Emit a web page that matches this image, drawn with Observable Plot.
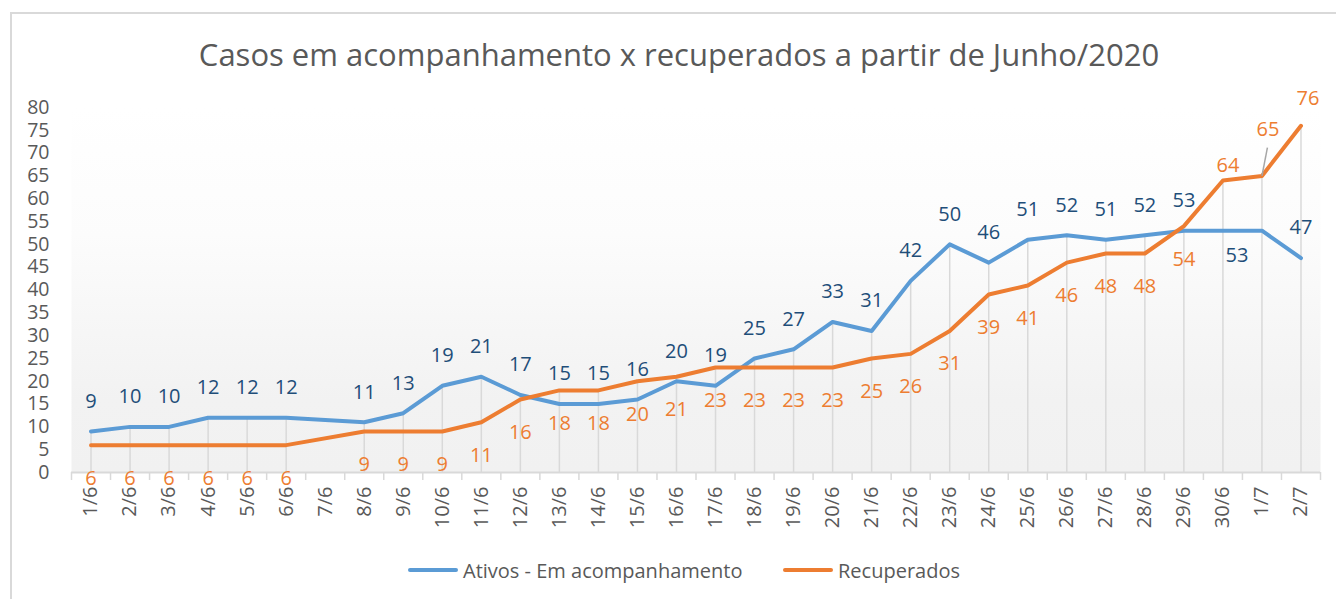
<!DOCTYPE html>
<html>
<head>
<meta charset="utf-8">
<script src="https://cdn.jsdelivr.net/npm/d3@7"></script>
<script src="https://cdn.jsdelivr.net/npm/@observablehq/plot@0.6"></script>
<style>
  html, body { margin: 0; padding: 0; background: #ffffff; }
  #wrap { position: relative; width: 1336px; height: 599px; overflow: hidden; font-family: "Open Sans", sans-serif; }
  #border { position: absolute; left: 10px; top: 12px; width: 1340px; height: 600px; border-left: 2px solid #d9d9d9; border-top: 2px solid #d9d9d9; box-sizing: border-box; }
  #title { position: absolute; top: 33px; left: 11px; width: 1336px; text-align: center; font-size: 31px; color: #595959; white-space: nowrap; }
  #chart { position: absolute; left: 0; top: 80px; }
  #legend { position: absolute; top: 556px; left: 0; width: 1336px; height: 28px; font-size: 20px; color: #595959; }
  .item { position: absolute; display: flex; align-items: center; height: 28px; }
  .swatch { width: 50px; height: 4px; border-radius: 2px; margin-right: 5px; }
</style>
</head>
<body>
<div id="wrap">
  <div id="border"></div>
  <div id="title">Casos em acompanhamento x recuperados a partir de Junho/2020</div>
  <div id="chart"></div>
  <div id="legend"></div>
</div>
<script>
const categories = ["1/6","2/6","3/6","4/6","5/6","6/6","7/6","8/6","9/6","10/6","11/6","12/6","13/6","14/6","15/6","16/6","17/6","18/6","19/6","20/6","21/6","22/6","23/6","24/6","25/6","26/6","27/6","28/6","29/6","30/6","1/7","2/7"];
const ativos = [9,10,10,12,12,12,null,11,13,19,21,17,15,15,16,20,19,25,27,33,31,42,50,46,51,52,51,52,53,53,53,47];
const recuperados = [6,6,6,6,6,6,null,9,9,9,11,16,18,18,20,21,23,23,23,23,25,26,31,39,41,46,48,48,54,64,65,76];
const yTicks = [0,5,10,15,20,25,30,35,40,45,50,55,60,65,70,75,80];
const seriesNames = ["Ativos - Em acompanhamento", "Recuperados"];

const lineColors = {"Ativos - Em acompanhamento": "#5B9BD5", "Recuperados": "#ED7D31"};
const labelColors = {"Ativos - Em acompanhamento": "#1F4E79", "Recuperados": "#ED7D31"};

// label placement (Excel-like), offsets in pixels; hidden labels as in the source chart
const placeA = {"30/6": {dx: 14, dy: 25}, "1/7": {hide: true}};
const placeR = {"30/6": {dx: 5, dy: -15}, "1/7": {dx: 6, dy: -46}, "2/7": {dx: 7, dy: -27}};

const rows = [];
categories.forEach((c, i) => {
  const pa = placeA[c] || {}, pr = placeR[c] || {};
  if (ativos[i] != null) rows.push({i, cat: c, v: ativos[i], s: seriesNames[0], dx: pa.dx ?? 0, dy: pa.dy ?? -30, hide: !!pa.hide});
  if (recuperados[i] != null) rows.push({i, cat: c, v: recuperados[i], s: seriesNames[1], dx: pr.dx ?? 0, dy: pr.dy ?? 33, hide: !!pr.hide});
});
const drops = categories.map((c, i) => ({i, top: (ativos[i] == null && recuperados[i] == null) ? null : Math.max(ativos[i] ?? 0, recuperados[i] ?? 0)})).filter(d => d.top != null);
const bounds = d3.range(categories.length + 1).map(k => k - 0.5);

const W = 1336, H = 470;
const textMarks = [];
for (const r of rows.filter(r => !r.hide)) {
  textMarks.push(Plot.text([r], {x: "i", y: "v", text: d => String(d.v), dx: r.dx, dy: r.dy, fill: labelColors[r.s], fontSize: 20, lineAnchor: "middle"}));
}
const leader = rows.filter(r => r.s === seriesNames[1] && r.cat === "1/7");

const chart = Plot.plot({
  width: W,
  height: H,
  marginLeft: 71,
  marginRight: 16,
  marginTop: 27,
  marginBottom: 78,
  style: {fontFamily: "Open Sans, sans-serif", fontSize: "20px", color: "#595959", background: "transparent", overflow: "visible"},
  x: {type: "linear", domain: [-0.5, categories.length - 0.5], label: null},
  y: {domain: [0, 80], label: null},
  marks: [
    Plot.frame({fill: "url(#bggrad)", stroke: "none"}),
    Plot.ruleX(drops, {x: "i", y1: 0, y2: "top", stroke: "#d9d9d9", strokeWidth: 1.5}),
    Plot.ruleY([0], {stroke: "#d9d9d9", strokeWidth: 2}),
    Plot.ruleX(bounds, {x: d => d, y1: 0, y2: 0, insetBottom: -8, stroke: "#d9d9d9", strokeWidth: 1.5}),
    Plot.axisY({ticks: yTicks, tickSize: 0, tickPadding: 22, fontSize: 19.5, fill: "#595959", label: null}),
    Plot.axisX({ticks: d3.range(categories.length), tickFormat: i => categories[i], tickRotate: -90, tickSize: 0, tickPadding: 14, fontSize: 20, fill: "#595959", label: null}),
    Plot.line(rows, {x: "i", y: "v", z: "s", stroke: d => lineColors[d.s], strokeWidth: 4, strokeLinejoin: "round", strokeLinecap: "round"}),
    Plot.link(leader, {x1: "i", y1: "v", x2: d => d.i + 0.14, y2: d => d.v + 6.2, stroke: "#a6a6a6", strokeWidth: 1.5}),
    ...textMarks
  ]
});

// gradient definition for the plot area background
const ns = "http://www.w3.org/2000/svg";
const defs = document.createElementNS(ns, "defs");
const grad = document.createElementNS(ns, "linearGradient");
grad.setAttribute("id", "bggrad");
grad.setAttribute("x1", "0"); grad.setAttribute("y1", "0");
grad.setAttribute("x2", "0"); grad.setAttribute("y2", "1");
[["0", "#ffffff"], ["0.35", "#fcfcfc"], ["0.8", "#f2f2f2"], ["1", "#f1f1f1"]].forEach(([o, c]) => {
  const s = document.createElementNS(ns, "stop");
  s.setAttribute("offset", o); s.setAttribute("stop-color", c);
  grad.appendChild(s);
});
defs.appendChild(grad);
chart.insertBefore(defs, chart.firstChild);
document.getElementById("chart").appendChild(chart);

// legend
const legend = document.getElementById("legend");
const legendX = {"Ativos - Em acompanhamento": 408, "Recuperados": 783};
for (const s of seriesNames) {
  const item = document.createElement("div");
  item.className = "item";
  item.style.left = legendX[s] + "px";
  const sw = document.createElement("div");
  sw.className = "swatch";
  sw.style.background = lineColors[s];
  const t = document.createElement("span");
  t.textContent = s;
  item.appendChild(sw); item.appendChild(t);
  legend.appendChild(item);
}
</script>
</body>
</html>
